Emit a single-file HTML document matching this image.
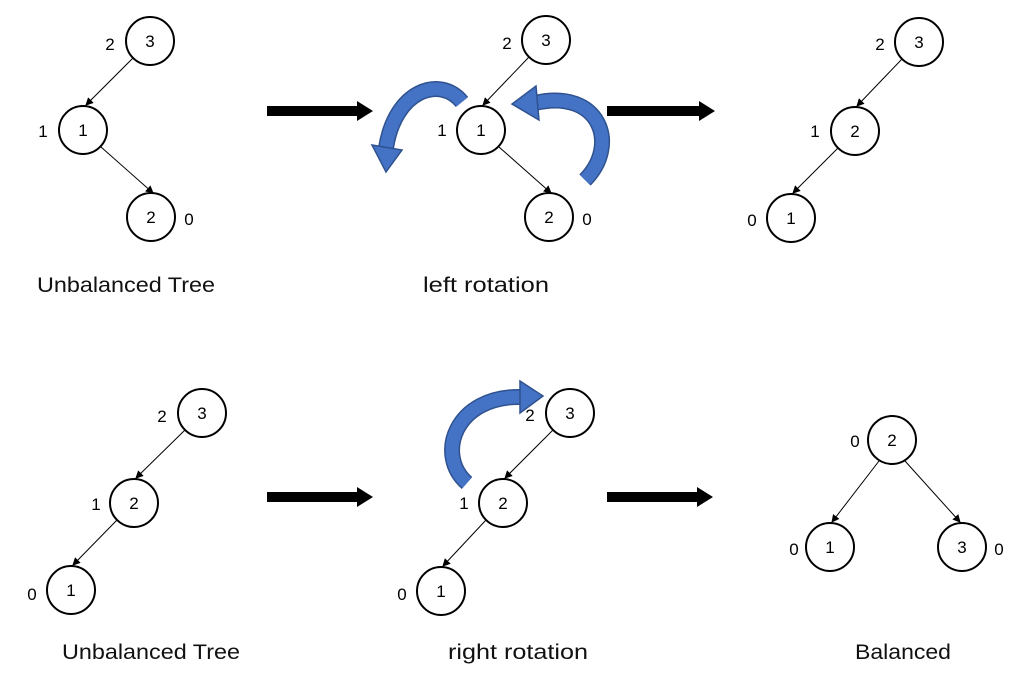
<!DOCTYPE html>
<html><head><style>body{margin:0;background:#fff}svg{display:block}</style></head>
<body>
<svg width="1028" height="681" viewBox="0 0 1028 681" xmlns="http://www.w3.org/2000/svg" font-family="Liberation Sans, sans-serif">
<defs>
<marker id="a" markerWidth="8" markerHeight="8" refX="7" refY="4" orient="auto" markerUnits="userSpaceOnUse"><path d="M0,0 L8,4 L0,8 Z" fill="#000"/></marker>
</defs>
<g fill="#fff" stroke="#000" stroke-width="2">
<circle cx="150" cy="41" r="24"/><circle cx="83" cy="130" r="24"/><circle cx="151" cy="217" r="24"/>
<circle cx="546" cy="40" r="24"/><circle cx="481" cy="130" r="24"/><circle cx="549" cy="217" r="24"/>
<circle cx="919" cy="42" r="24"/><circle cx="855" cy="131" r="24"/><circle cx="791" cy="218" r="24"/>
<circle cx="202" cy="413" r="24"/><circle cx="134" cy="503" r="24"/><circle cx="71" cy="590" r="24"/>
<circle cx="570" cy="413" r="24"/><circle cx="503" cy="503" r="24"/><circle cx="441" cy="591" r="24"/>
<circle cx="892" cy="440" r="24"/><circle cx="830" cy="547" r="24"/><circle cx="962" cy="547" r="24"/>
</g>
<g stroke="#000" stroke-width="1" marker-end="url(#a)">
<line x1="133" y1="58" x2="86" y2="105"/><line x1="101" y1="147" x2="153" y2="193"/>
<line x1="529" y1="57" x2="483" y2="105"/><line x1="499" y1="147" x2="551" y2="193"/>
<line x1="902" y1="59" x2="857" y2="106"/><line x1="838" y1="148" x2="793" y2="193"/>
<line x1="185" y1="430" x2="136" y2="478"/><line x1="117" y1="520" x2="73" y2="565"/>
<line x1="553" y1="430" x2="505" y2="478"/><line x1="486" y1="520" x2="443" y2="566"/>
<line x1="879" y1="461" x2="832" y2="522"/><line x1="905" y1="461" x2="960" y2="522"/>
</g>
<g font-size="17" text-anchor="middle" fill="#000">
<text x="150" y="47">3</text><text x="83" y="136">1</text><text x="151" y="223">2</text>
<text x="110" y="50">2</text><text x="43" y="137">1</text><text x="189" y="225">0</text>
<text x="546" y="46">3</text><text x="481" y="136">1</text><text x="549" y="223">2</text>
<text x="507" y="49">2</text><text x="442" y="136">1</text><text x="587" y="225">0</text>
<text x="919" y="48">3</text><text x="855" y="137">2</text><text x="791" y="224">1</text>
<text x="880" y="50">2</text><text x="815" y="137">1</text><text x="752" y="226">0</text>
<text x="202" y="419">3</text><text x="134" y="509">2</text><text x="71" y="596">1</text>
<text x="162" y="422">2</text><text x="96" y="510">1</text><text x="32" y="600">0</text>
<text x="570" y="419">3</text><text x="503" y="509">2</text><text x="441" y="597">1</text>
<text x="530" y="421">2</text><text x="464" y="509">1</text><text x="402" y="600">0</text>
<text x="892" y="446">2</text><text x="830" y="553">1</text><text x="962" y="553">3</text>
<text x="855" y="447">0</text><text x="794" y="555">0</text><text x="999" y="555">0</text>
</g>
<g font-size="21" fill="#111">
<text x="37" y="292" textLength="178" lengthAdjust="spacingAndGlyphs">Unbalanced Tree</text>
<text x="423" y="292" textLength="126" lengthAdjust="spacingAndGlyphs">left rotation</text>
<text x="62" y="659" textLength="178" lengthAdjust="spacingAndGlyphs">Unbalanced Tree</text>
<text x="448" y="659" textLength="140" lengthAdjust="spacingAndGlyphs">right rotation</text>
<text x="855" y="659" textLength="96" lengthAdjust="spacingAndGlyphs">Balanced</text>
</g>
<g fill="#000">
<polygon points="267,106 357,106 357,101 373,111 357,121 357,116 267,116"/>
<polygon points="607,106 699,106 699,101 715,111 699,121 699,116 607,116"/>
<polygon points="267,492 357,492 357,487 373,497 357,507 357,502 267,502"/>
<polygon points="607,492 697,492 697,487 713,497 697,507 697,502 607,502"/>
</g>
<g fill="none" stroke="#2F528F" stroke-width="16">
<path d="M462,102 C440,75 395,90 386,148"/>
<path d="M585,180 C620,145 600,88 535,103"/>
<path d="M467,483 C435,455 455,395 522,397"/>
</g>
<g fill="none" stroke="#4472C4" stroke-width="13">
<path d="M462,102 C440,75 395,90 386,148"/>
<path d="M585,180 C620,145 600,88 535,103"/>
<path d="M467,483 C435,455 455,395 522,397"/>
</g>
<g fill="#4472C4" stroke="#2F528F" stroke-width="1.5">
<polygon points="372,145 402,150 386,172"/>
<polygon points="536,86 539,120 512,104"/>
<polygon points="520,381 520,413 543,396"/>
</g>
</svg>
</body></html>
